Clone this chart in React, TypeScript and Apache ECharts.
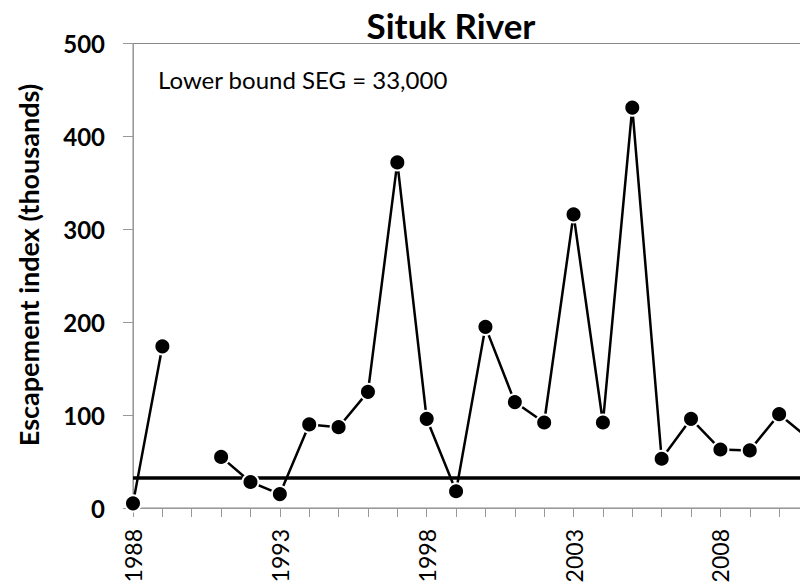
import React, { useEffect, useRef } from "react";
import * as echarts from "echarts";

const years: string[] = [
  "1988", "1989", "1990", "1991", "1992", "1993", "1994", "1995", "1996", "1997", "1998", "1999",
  "2000", "2001", "2002", "2003", "2004", "2005", "2006", "2007", "2008", "2009", "2010", "2011",
];
const escapement: (number | null)[] = [
  5, 174, null, 55, 28, 15, 90, 87, 125, 372, 96, 18,
  195, 114, 92, 316, 92, 431, 53, 96, 63, 62, 101, 75,
];
const segLowerBound = 33;
const yTicks = { min: 0, max: 500, interval: 100 };

export default function App() {
  const ref = useRef<HTMLDivElement>(null);
  useEffect(() => {
    if (!ref.current) return;
    const chart = echarts.init(ref.current, null, { renderer: "svg" });
    chart.setOption({
      animation: false,
      backgroundColor: "#ffffff",
      title: {
        text: "Situk River",
        left: 446,
        top: 2,
        textAlign: "center",
        textStyle: { fontFamily: "Lato", fontWeight: "bold", fontSize: 35, color: "#000" },
      },
      graphic: [
        {
          type: "text",
          left: 158,
          top: 67,
          style: {
            text: "Lower bound SEG = 33,000",
            fontFamily: "Lato",
            fontSize: 24,
            fill: "#000",
          },
        },
        {
          type: "text",
          x: 28,
          y: 265,
          rotation: Math.PI / 2,
          style: {
            text: "Escapement index (thousands)",
            fontFamily: "Lato",
            fontWeight: "bold",
            fontSize: 27,
            fill: "#000",
            textAlign: "center",
            textVerticalAlign: "middle",
          },
        },
      ],
      grid: {
        left: 133,
        top: 43.5,
        right: 21.5,
        height: 464.5,
        show: true,
        borderColor: "#888888",
        borderWidth: 1,
      },
      xAxis: {
        type: "category",
        data: years,
        boundaryGap: false,
        axisLine: { lineStyle: { color: "#999999", width: 1 } },
        axisTick: { show: true, interval: 0, length: 9, lineStyle: { color: "#999999" } },
        axisLabel: {
          interval: 4,
          rotate: 90,
          margin: 21,
          fontFamily: "Lato",
          fontSize: 23,
          color: "#000",
        },
        splitLine: { show: false },
      },
      yAxis: {
        type: "value",
        min: yTicks.min,
        max: yTicks.max,
        interval: yTicks.interval,
        axisLine: { show: true, lineStyle: { color: "#999999", width: 1 } },
        axisTick: { show: true, length: 10, lineStyle: { color: "#999999" } },
        axisLabel: { margin: 28, fontFamily: "Lato", fontWeight: "bold", fontSize: 24, color: "#000" },
        splitLine: { show: false },
      },
      series: [
        {
          type: "line",
          data: escapement,
          connectNulls: false,
          symbol: "circle",
          symbolSize: 16,
          clip: false,
          lineStyle: { color: "#000", width: 2.5 },
          itemStyle: { color: "#000", borderColor: "#fff", borderWidth: 2 },
          z: 3,
          markLine: {
            silent: true,
            symbol: "none",
            label: { show: false },
            lineStyle: { color: "#000", width: 3.5, type: "solid" },
            data: [{ yAxis: segLowerBound }],
            z: 2,
          },
        },
      ],
    });
    return () => chart.dispose();
  }, []);
  return (
    <div style={{ position: "fixed", left: 0, top: 0, width: 800, height: 586, overflow: "hidden", background: "#fff" }}>
      <div ref={ref} style={{ width: 830, height: 586 }} />
    </div>
  );
}
